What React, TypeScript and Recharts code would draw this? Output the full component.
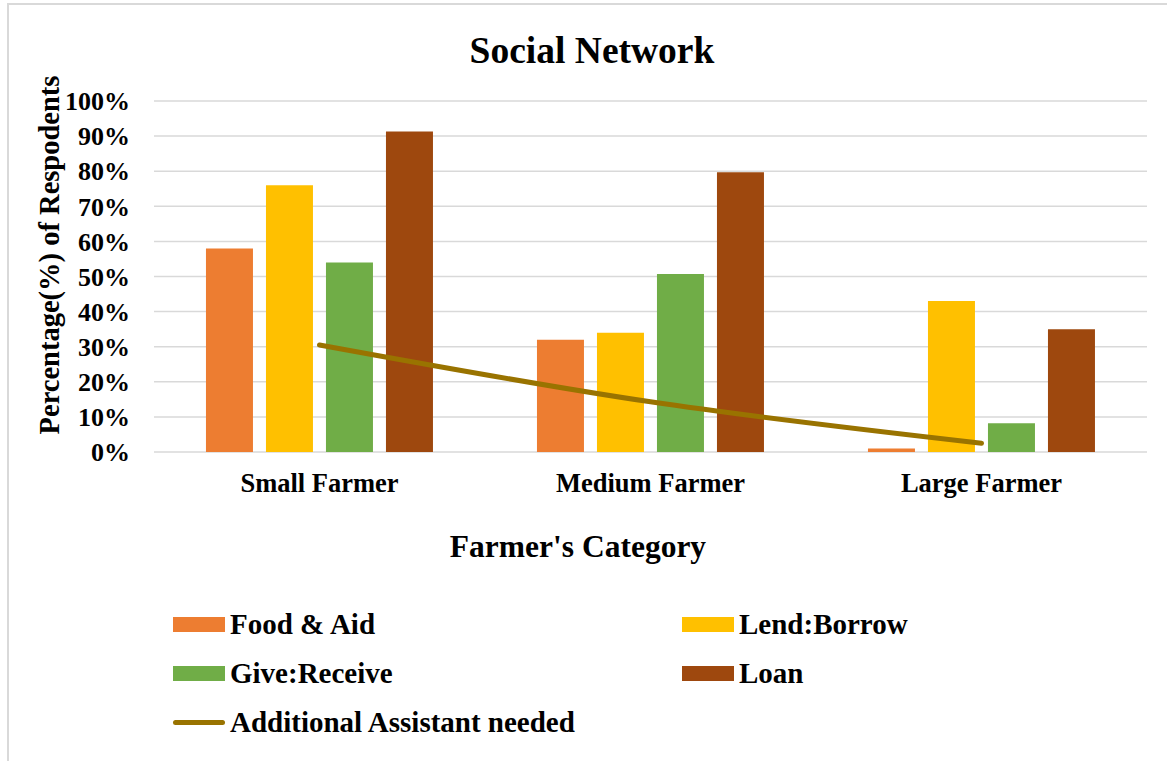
import { ComposedChart, Bar, Line, XAxis, YAxis, CartesianGrid, Customized } from 'recharts';

const categories = ['Small Farmer', 'Medium Farmer', 'Large Farmer'];
const foodAid = [58, 32, 1];
const lendBorrow = [76, 34, 43];
const giveReceive = [54, 50.7, 8.2];
const loan = [91.3, 79.7, 35];
const assistNeeded = [30.5, 14.3, 2.5];
const yTicks = [0, 10, 20, 30, 40, 50, 60, 70, 80, 90, 100];

const SERIES = [
  { key: 'food', label: 'Food & Aid', color: '#ED7D31' },
  { key: 'lend', label: 'Lend:Borrow', color: '#FFC000' },
  { key: 'give', label: 'Give:Receive', color: '#70AD47' },
  { key: 'loan', label: 'Loan', color: '#9E480E' },
];
const LINE = { key: 'assist', label: 'Additional Assistant needed', color: '#997300' };

const FONT = '"Liberation Serif", "Times New Roman", serif';

const data = categories.map((name, i) => ({
  name,
  food: foodAid[i],
  lend: lendBorrow[i],
  give: giveReceive[i],
  loan: loan[i],
  assist: assistNeeded[i],
}));

function Titles() {
  return (
    <g fontFamily={FONT} fontWeight="bold" fill="#000">
      <text x={592} y={63} textAnchor="middle" fontSize={37.5}>
        Social Network
      </text>
      <text x={578} y={557} textAnchor="middle" fontSize={31.5}>
        Farmer's Category
      </text>
      <text x={59} y={255} textAnchor="middle" fontSize={28.5} transform="rotate(-90, 59, 255)">
        Percentage(%) of Respodents
      </text>
    </g>
  );
}

function LegendBlock() {
  const items = [...SERIES, LINE];
  return (
    <div
      style={{
        position: 'absolute',
        left: 173,
        top: 600,
        display: 'grid',
        gridTemplateColumns: '509px auto',
        gridAutoRows: '49px',
        fontFamily: FONT,
        fontWeight: 'bold',
        fontSize: 29,
        color: '#000',
      }}
    >
      {items.map((it) => (
        <div key={it.key} style={{ display: 'flex', alignItems: 'center', gap: 5 }}>
          {it.key === 'assist' ? (
            <div style={{ width: 52, height: 5, borderRadius: 3, backgroundColor: it.color }} />
          ) : (
            <div style={{ width: 52, height: 15, backgroundColor: it.color }} />
          )}
          <span>{it.label}</span>
        </div>
      ))}
    </div>
  );
}

export default function App() {
  return (
    <div style={{ position: 'absolute', left: 0, top: 0, width: 1167, height: 761, background: '#fff' }}>
      <div
        style={{
          position: 'absolute',
          left: 7,
          top: 3,
          width: 1160,
          height: 758,
          boxSizing: 'border-box',
          borderTop: '2px solid #d9d9d9',
          borderLeft: '2px solid #d9d9d9',
        }}
      />
      <div style={{ position: 'absolute', left: 0, top: 0 }}>
        <ComposedChart
          width={1167}
          height={761}
          data={data}
          margin={{ top: 101, right: 20, bottom: 249, left: 54 }}
          barCategoryGap="15.7%"
          barGap={13}
        >
          <CartesianGrid vertical={false} stroke="#d9d9d9" strokeWidth={1.5} />
          <XAxis
            dataKey="name"
            axisLine={false}
            tickLine={false}
            tickSize={0}
            tickMargin={21}
            height={60}
            tick={{ fontFamily: FONT, fontWeight: 'bold', fontSize: 26.5, fill: '#000' }}
          />
          <YAxis
            domain={[0, 100]}
            ticks={yTicks}
            tickFormatter={(v) => `${v}%`}
            axisLine={false}
            tickLine={false}
            tickSize={0}
            tickMargin={24}
            width={100}
            tick={{ fontFamily: FONT, fontWeight: 'bold', fontSize: 26, fill: '#000' }}
          />
          {SERIES.map((s) => (
            <Bar key={s.key} dataKey={s.key} fill={s.color} isAnimationActive={false} />
          ))}
          <Line
            type="monotone"
            dataKey={LINE.key}
            stroke={LINE.color}
            strokeWidth={5}
            strokeLinecap="round"
            dot={false}
            activeDot={false}
            isAnimationActive={false}
          />
          <Customized component={Titles} />
        </ComposedChart>
      </div>
      <LegendBlock />
    </div>
  );
}
